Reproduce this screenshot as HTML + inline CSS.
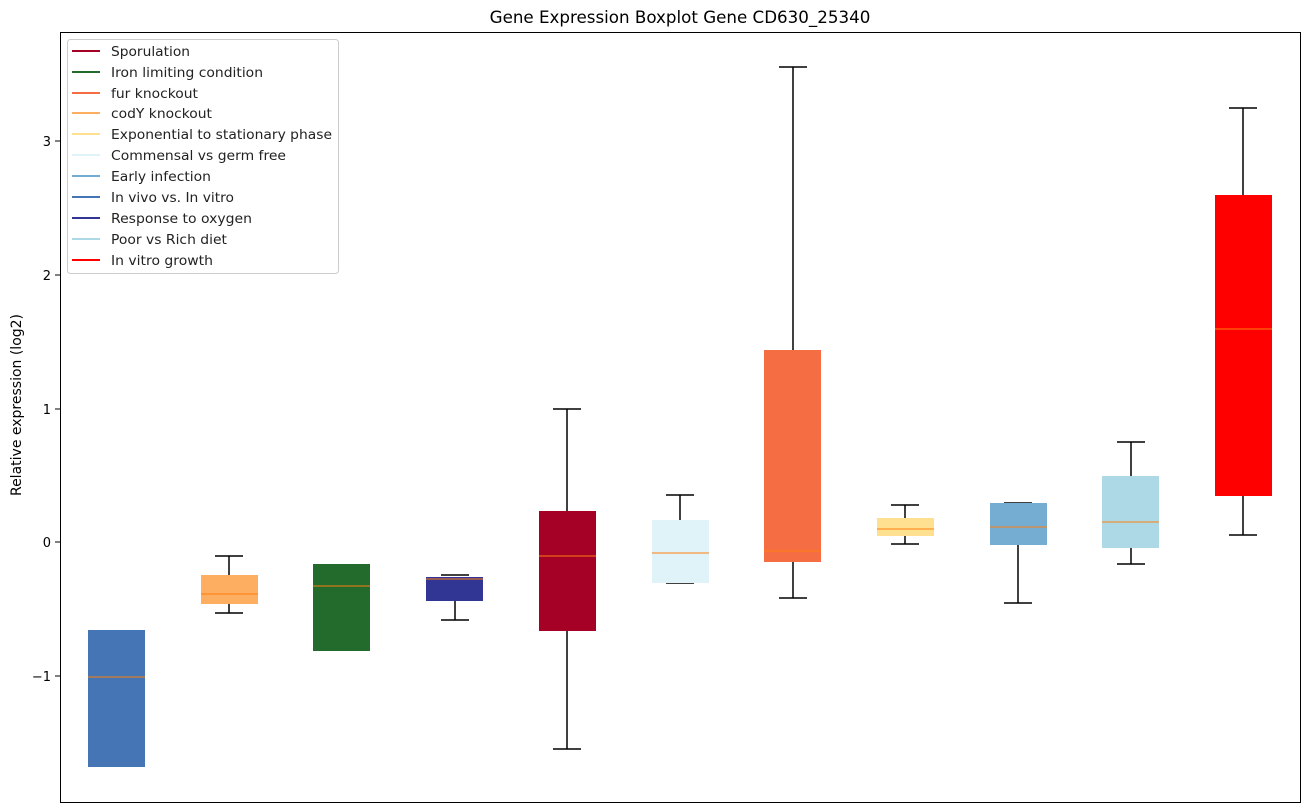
<!DOCTYPE html>
<html><head><style>body{margin:0;background:#fff}svg{display:block;font-family:"DejaVu Sans","Liberation Sans",sans-serif}</style></head><body>
<svg width="1309" height="812" xmlns="http://www.w3.org/2000/svg">
<rect width="1309" height="812" fill="#fff"/>
<text x="680" y="23" font-size="16.7" text-anchor="middle">Gene Expression Boxplot Gene CD630_25340</text>
<g stroke="#000" stroke-width="1">
<line x1="60" y1="141" x2="55" y2="141"/><line x1="60" y1="275" x2="55" y2="275"/><line x1="60" y1="409" x2="55" y2="409"/><line x1="60" y1="542" x2="55" y2="542"/><line x1="60" y1="676" x2="55" y2="676"/>
</g>
<g font-size="13" text-anchor="end">
<text x="51" y="146">3</text><text x="51" y="280">2</text><text x="51" y="414">1</text><text x="51" y="547">0</text><text x="51" y="681">−1</text>
</g>
<text transform="translate(21,405) rotate(-90)" font-size="14" text-anchor="middle">Relative expression (log2)</text>
<g stroke-width="1.5">
<g stroke="#000">
<line x1="229" y1="556" x2="229" y2="575"/><line x1="229" y1="604" x2="229" y2="613"/><line x1="215" y1="556" x2="243" y2="556"/><line x1="215" y1="613" x2="243" y2="613"/>
<line x1="455" y1="601" x2="455" y2="620"/><line x1="441" y1="575" x2="469" y2="575"/><line x1="441" y1="620" x2="469" y2="620"/>
<line x1="567" y1="409" x2="567" y2="511"/><line x1="567" y1="631" x2="567" y2="749"/><line x1="553" y1="409" x2="581" y2="409"/><line x1="553" y1="749" x2="581" y2="749"/>
<line x1="680" y1="495" x2="680" y2="520"/><line x1="666" y1="495" x2="694" y2="495"/><line x1="666" y1="583" x2="694" y2="583"/>
<line x1="793" y1="67" x2="793" y2="350"/><line x1="793" y1="562" x2="793" y2="598"/><line x1="779" y1="67" x2="807" y2="67"/><line x1="779" y1="598" x2="807" y2="598"/>
<line x1="905" y1="505" x2="905" y2="518"/><line x1="905" y1="536" x2="905" y2="544"/><line x1="891" y1="505" x2="919" y2="505"/><line x1="891" y1="544" x2="919" y2="544"/>
<line x1="1018" y1="545" x2="1018" y2="603"/><line x1="1004" y1="503" x2="1032" y2="503"/><line x1="1004" y1="603" x2="1032" y2="603"/>
<line x1="1131" y1="442" x2="1131" y2="476"/><line x1="1131" y1="548" x2="1131" y2="564"/><line x1="1117" y1="442" x2="1145" y2="442"/><line x1="1117" y1="564" x2="1145" y2="564"/>
<line x1="1243" y1="108" x2="1243" y2="195"/><line x1="1243" y1="496" x2="1243" y2="535"/><line x1="1229" y1="108" x2="1257" y2="108"/><line x1="1229" y1="535" x2="1257" y2="535"/>
</g>
<g stroke="none">
<rect x="88" y="630" width="57" height="137" fill="#4575b4"/>
<rect x="201" y="575" width="57" height="29" fill="#fdae61"/>
<rect x="313" y="564" width="57" height="87" fill="#236b2d"/>
<rect x="426" y="577" width="57" height="24" fill="#313695"/>
<rect x="539" y="511" width="57" height="120" fill="#a50026"/>
<rect x="652" y="520" width="57" height="63" fill="#e0f3f8"/>
<rect x="764" y="350" width="57" height="212" fill="#f46d43"/>
<rect x="877" y="518" width="57" height="18" fill="#fee090"/>
<rect x="990" y="503" width="57" height="42" fill="#74add1"/>
<rect x="1102" y="476" width="57" height="72" fill="#add8e6"/>
<rect x="1215" y="195" width="57" height="301" fill="#ff0000"/>
</g>
<g stroke="#ff7f0e" stroke-width="1">
<line x1="88" y1="677" x2="145" y2="677"/><line x1="201" y1="594" x2="258" y2="594"/><line x1="313" y1="586" x2="370" y2="586"/><line x1="426" y1="579" x2="483" y2="579"/><line x1="539" y1="556" x2="596" y2="556"/><line x1="652" y1="553" x2="709" y2="553"/><line x1="764" y1="551" x2="821" y2="551"/><line x1="877" y1="529" x2="934" y2="529"/><line x1="990" y1="527" x2="1047" y2="527"/><line x1="1102" y1="522" x2="1159" y2="522"/><line x1="1215" y1="329" x2="1272" y2="329"/>
</g>
</g>
<rect x="60.5" y="32.5" width="1240" height="770" fill="none" stroke="#000" stroke-width="1"/>
<rect x="67.5" y="39.5" width="271" height="234" rx="3" fill="#fff" fill-opacity="0.8" stroke="#ccc"/>
<g stroke-width="2">
<line x1="72" y1="51" x2="100" y2="51" stroke="#a50026"/>
<line x1="72" y1="72" x2="100" y2="72" stroke="#236b2d"/>
<line x1="72" y1="93" x2="100" y2="93" stroke="#f46d43"/>
<line x1="72" y1="113" x2="100" y2="113" stroke="#fdae61"/>
<line x1="72" y1="134" x2="100" y2="134" stroke="#fee090"/>
<line x1="72" y1="155" x2="100" y2="155" stroke="#e0f3f8"/>
<line x1="72" y1="176" x2="100" y2="176" stroke="#74add1"/>
<line x1="72" y1="197" x2="100" y2="197" stroke="#4575b4"/>
<line x1="72" y1="218" x2="100" y2="218" stroke="#313695"/>
<line x1="72" y1="239" x2="100" y2="239" stroke="#add8e6"/>
<line x1="72" y1="260" x2="100" y2="260" stroke="#ff0000"/>
</g>
<g font-size="13" fill="#222">
<text x="111" y="56" textLength="79" lengthAdjust="spacingAndGlyphs">Sporulation</text>
<text x="111" y="77" textLength="152" lengthAdjust="spacingAndGlyphs">Iron limiting condition</text>
<text x="111" y="98" textLength="87" lengthAdjust="spacingAndGlyphs">fur knockout</text>
<text x="111" y="118" textLength="101" lengthAdjust="spacingAndGlyphs">codY knockout</text>
<text x="111" y="139" textLength="221" lengthAdjust="spacingAndGlyphs">Exponential to stationary phase</text>
<text x="111" y="160" textLength="175" lengthAdjust="spacingAndGlyphs">Commensal vs germ free</text>
<text x="111" y="181" textLength="100" lengthAdjust="spacingAndGlyphs">Early infection</text>
<text x="111" y="202" textLength="123" lengthAdjust="spacingAndGlyphs">In vivo vs. In vitro</text>
<text x="111" y="223" textLength="141" lengthAdjust="spacingAndGlyphs">Response to oxygen</text>
<text x="111" y="244" textLength="116" lengthAdjust="spacingAndGlyphs">Poor vs Rich diet</text>
<text x="111" y="265" textLength="102" lengthAdjust="spacingAndGlyphs">In vitro growth</text>
</g>
</svg>
</body></html>
